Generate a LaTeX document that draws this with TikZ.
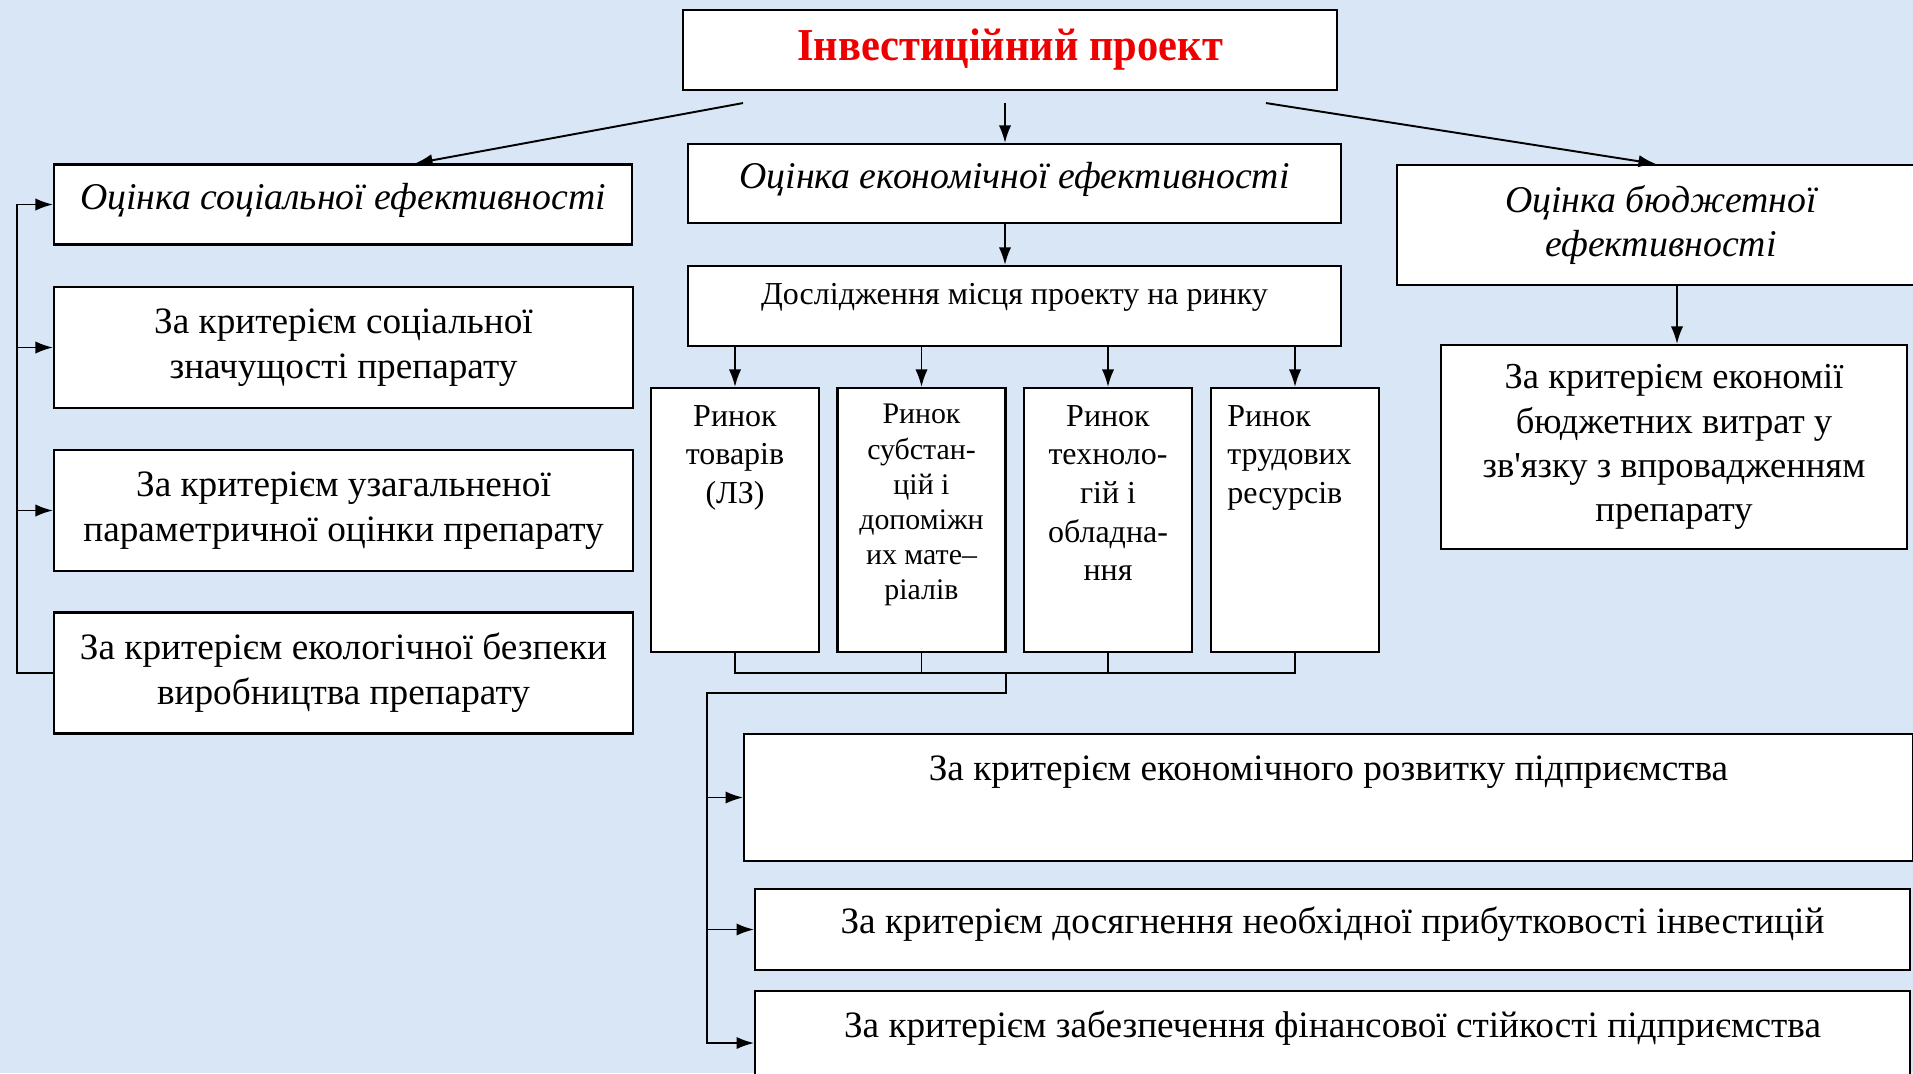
\documentclass[tikz,border=0pt]{standalone}
\usepackage{fontspec}
\usepackage{graphicx}
\setmainfont{Liberation Serif}
\usetikzlibrary{positioning,calc,arrows.meta}
\definecolor{bgblue}{RGB}{216,230,246}
\definecolor{titlered}{RGB}{238,0,0}
\newcommand{\crittxt}{\fontsize{21.2}{25.6}\selectfont}
\newcommand{\evaltxt}{\fontsize{21.5}{25.6}\selectfont\itshape}
\newcommand{\mkttxt}{\fontsize{18.2}{22}\selectfont}
\tikzset{
  box/.style={draw, line width=1.2pt, fill=white, inner sep=0pt, align=center},
  crit/.style={box, font=\crittxt},
  evalbox/.style={box, font=\evaltxt},
  mkt/.style={box, minimum width=3.36cm, minimum height=5.28cm},
  txt/.style={inner sep=0pt, align=center},
  arr/.style={-{Latex[length=10pt,width=7pt]}, line width=1.1pt},
}

\begin{document}
\begin{tikzpicture}[x=0.02cm, y=-0.02cm]
	\clip (0,0) rectangle (1913,1073);
	\fill[bgblue] (0,0) rectangle (1913,1073);
	% top level
	\node[box, minimum width=13.08cm, minimum height=1.6cm, font=\fontsize{26}{30}\selectfont\bfseries, text=titlered] (title) at (1010,50)
		{\scalebox{0.93}[1]{Інвестиційний проект}};
	\node[evalbox, minimum width=11.56cm, minimum height=1.6cm, text depth=0.34cm] (soc) at (343,204.5)
		{Оцінка соціальної ефективності};
	\node[evalbox, minimum width=13.06cm, minimum height=1.58cm, text depth=0.32cm] (eco) at (1014.5,183.5)
		{Оцінка економічної ефективності};
	\node[evalbox, minimum width=10.56cm, minimum height=2.4cm] (bud) at (1661,225)
		{Оцінка бюджетної\\ефективності};
	% left column
	\node[crit, minimum width=11.58cm, minimum height=2.42cm] (lc1) at (343.5,347.5)
		{За критерієм соціальної\\значущості препарату};
	\node[crit, minimum width=11.58cm, minimum height=2.42cm] (lc2) at (343.5,510.5)
		{За критерієм узагальненої\\параметричної оцінки препарату};
	\node[crit, minimum width=11.58cm, minimum height=2.42cm] (lc3) at (343.5,673)
		{За критерієм екологічної безпеки\\виробництва препарату};
	% right column
	\node[crit, minimum width=9.32cm, minimum height=4.08cm, font=\fontsize{20.8}{25.2}\selectfont] (budc) at (1674,447)
		{За критерієм економії\\бюджетних витрат у\\зв\textquotesingle язку з впровадженням\\препарату};
	% middle column
	\node[box, minimum width=13.06cm, minimum height=1.6cm, font=\mkttxt, text depth=0.48cm] (res) at (1014.5,306)
		{Дослідження місця проекту на ринку};
	\node[mkt] (m1) at (735,520) {};
	\node[mkt] (m2) at (921.5,520) {};
	\node[mkt] (m3) at (1108,520) {};
	\node[mkt] (m4) at (1295,520) {};
	\node[txt, font=\mkttxt, below=0.36cm of m1.north] (m1t) {Ринок\\товарів\\(ЛЗ)};
	\node[txt, font=\fontsize{17}{20}\selectfont, below=0.34cm of m2.north] (m2t) {Ринок\\субстан-\\цій і\\допоміжн\\их мате--\\ріалів};
	\node[txt, font=\mkttxt, below=0.36cm of m3.north] (m3t) {Ринок\\техноло-\\гій і\\обладна-\\ння};
	\node[txt, font=\mkttxt, align=left, below right=0.36cm and 0.34cm of m4.north west] (m4t) {Ринок\\трудових\\ресурсів};
	% bottom column
	\node[crit, minimum width=23.38cm, minimum height=2.54cm] (ea) at (1328.5,797.5) {};
	\node[crit, minimum width=23.1cm, minimum height=1.62cm, text depth=0.38cm] (eb) at (1332.5,929.5)
		{За критерієм досягнення необхідної прибутковості інвестицій};
	\node[crit, minimum width=23.1cm, minimum height=2.08cm] (ec) at (1332.5,1043) {};
	\node[txt, font=\crittxt, below=0.44cm of ea.north] (eat) {За критерієм економічного розвитку підприємства};
	\node[txt, font=\crittxt, below=0.42cm of ec.north] (ect) {За критерієм забезпечення фінансової стійкості підприємства};
	% connectors
	\draw[arr] ($(title.south)+(-267,12)$) -- ($(soc.north)+(72,0)$);
	\draw[arr] ($(title.south)+(-5,12)$) -- ($(eco.north)+(-9.5,0)$);
	\draw[arr] ($(title.south)+(256,12)$) -- ($(bud.north)+(-5,0)$);
	\draw[arr] ($(eco.south)+(-9.5,0)$) -- ($(res.north)+(-9.5,0)$);
	\draw[arr] ($(bud.south)+(16,0)$) -- ($(budc.north)+(3,0)$);
	\foreach \m in {m1,m2,m3,m4}
		\draw[arr] (res.south -| \m) -- (\m.north);
	% left rail
	\coordinate (lrail) at (17,0);
	\draw[arr] (lc3.west) -- (lc3.west -| lrail) |- (soc.west);
	\draw[arr] (lrail |- lc1.west) -- (lc1.west);
	\draw[arr] (lrail |- lc2.west) -- (lc2.west);
	% market bus
	\coordinate (bus) at (1006,673);
	\coordinate (rail) at (707,693);
	\draw[line width=1.1pt] (m1.south) |- (bus) -| (m4.south);
	\draw[line width=1.1pt] (m2.south) -- (m2.south |- bus);
	\draw[line width=1.1pt] (m3.south) -- (m3.south |- bus);
	\draw[arr] (bus) |- (rail) |- (ec.west);
	\draw[arr] (rail |- ea.west) -- (ea.west);
	\draw[arr] (rail |- eb.west) -- (eb.west);
\end{tikzpicture}
\end{document}
